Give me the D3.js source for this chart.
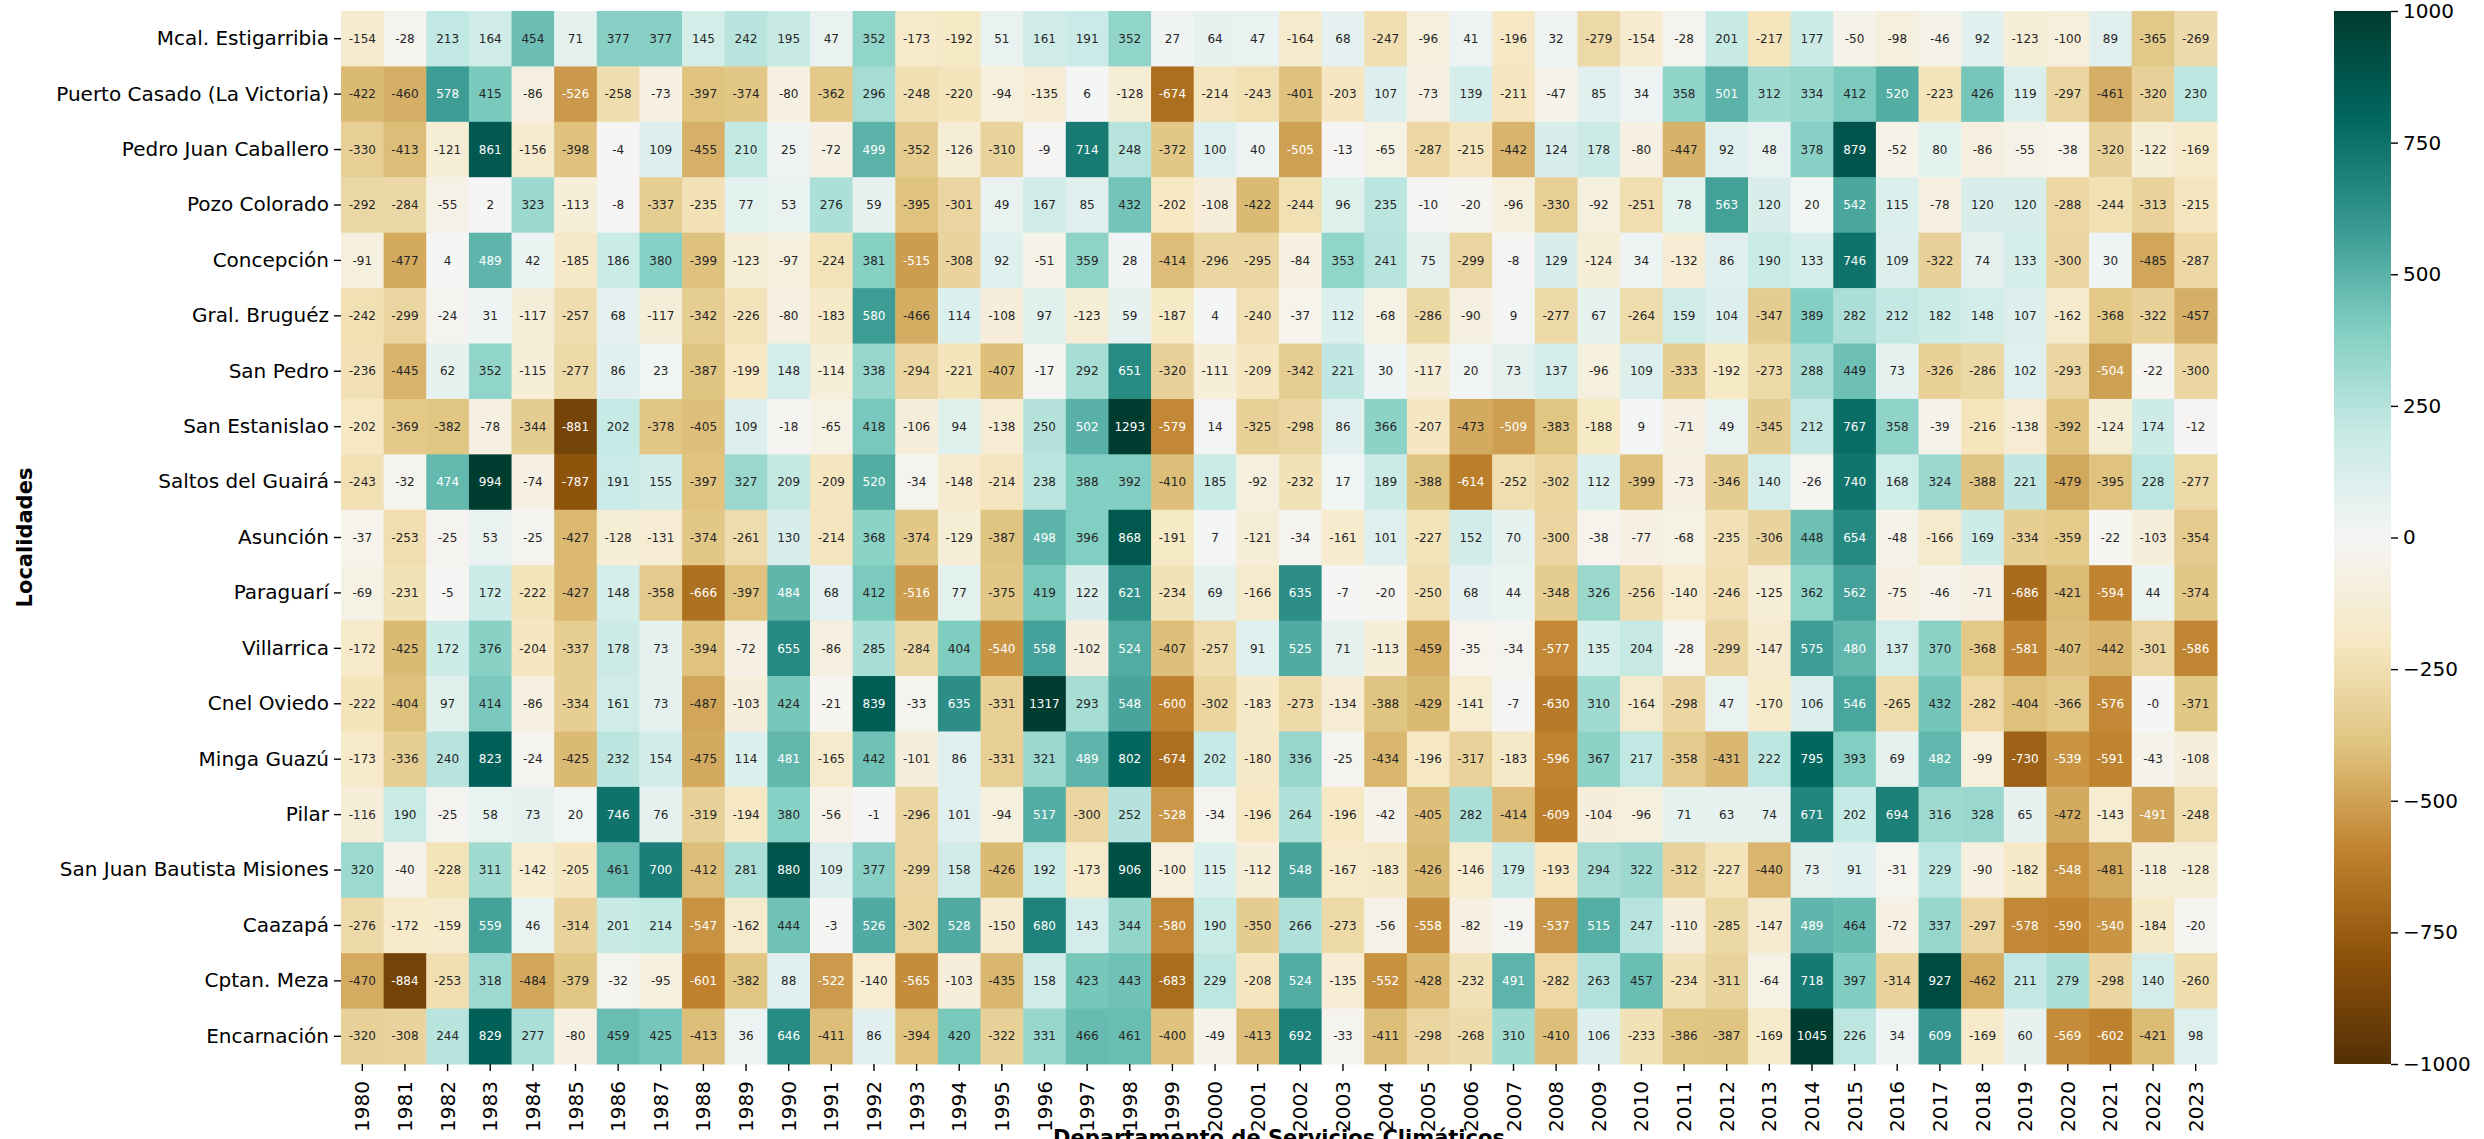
<!DOCTYPE html>
<html>
<head>
<meta charset="utf-8">
<script src="https://cdn.jsdelivr.net/npm/d3@7"></script>
<style>
  body { margin: 0; background: #fff; }
  text { font-family: "DejaVu Sans", sans-serif; }
</style>
</head>
<body>
<svg id="chart" width="2484" height="1139"></svg>
<script>
var years = [1980, 1981, 1982, 1983, 1984, 1985, 1986, 1987, 1988, 1989,
  1990, 1991, 1992, 1993, 1994, 1995, 1996, 1997, 1998, 1999,
  2000, 2001, 2002, 2003, 2004, 2005, 2006, 2007, 2008, 2009,
  2010, 2011, 2012, 2013, 2014, 2015, 2016, 2017, 2018, 2019,
  2020, 2021, 2022, 2023]

var localidades = ['Mcal. Estigarribia', 'Puerto Casado (La Victoria)', 'Pedro Juan Caballero',
  'Pozo Colorado', 'Concepción', 'Gral. Bruguéz', 'San Pedro', 'San Estanislao',
  'Saltos del Guairá', 'Asunción', 'Paraguarí', 'Villarrica', 'Cnel Oviedo',
  'Minga Guazú', 'Pilar', 'San Juan Bautista Misiones', 'Caazapá', 'Cptan. Meza', 'Encarnación']

// one row per localidad, one value per year (anomalía, mm)
var valores = [
  [-154, -28, 213, 164, 454, 71, 377, 377, 145, 242, 195, 47, 352, -173, -192, 51, 161, 191, 352, 27, 64, 47, -164, 68, -247, -96, 41, -196, 32, -279, -154, -28, 201, -217, 177, -50, -98, -46, 92, -123, -100, 89, -365, -269],
  [-422, -460, 578, 415, -86, -526, -258, -73, -397, -374, -80, -362, 296, -248, -220, -94, -135, 6, -128, -674, -214, -243, -401, -203, 107, -73, 139, -211, -47, 85, 34, 358, 501, 312, 334, 412, 520, -223, 426, 119, -297, -461, -320, 230],
  [-330, -413, -121, 861, -156, -398, -4, 109, -455, 210, 25, -72, 499, -352, -126, -310, -9, 714, 248, -372, 100, 40, -505, -13, -65, -287, -215, -442, 124, 178, -80, -447, 92, 48, 378, 879, -52, 80, -86, -55, -38, -320, -122, -169],
  [-292, -284, -55, 2, 323, -113, -8, -337, -235, 77, 53, 276, 59, -395, -301, 49, 167, 85, 432, -202, -108, -422, -244, 96, 235, -10, -20, -96, -330, -92, -251, 78, 563, 120, 20, 542, 115, -78, 120, 120, -288, -244, -313, -215],
  [-91, -477, 4, 489, 42, -185, 186, 380, -399, -123, -97, -224, 381, -515, -308, 92, -51, 359, 28, -414, -296, -295, -84, 353, 241, 75, -299, -8, 129, -124, 34, -132, 86, 190, 133, 746, 109, -322, 74, 133, -300, 30, -485, -287],
  [-242, -299, -24, 31, -117, -257, 68, -117, -342, -226, -80, -183, 580, -466, 114, -108, 97, -123, 59, -187, 4, -240, -37, 112, -68, -286, -90, 9, -277, 67, -264, 159, 104, -347, 389, 282, 212, 182, 148, 107, -162, -368, -322, -457],
  [-236, -445, 62, 352, -115, -277, 86, 23, -387, -199, 148, -114, 338, -294, -221, -407, -17, 292, 651, -320, -111, -209, -342, 221, 30, -117, 20, 73, 137, -96, 109, -333, -192, -273, 288, 449, 73, -326, -286, 102, -293, -504, -22, -300],
  [-202, -369, -382, -78, -344, -881, 202, -378, -405, 109, -18, -65, 418, -106, 94, -138, 250, 502, 1293, -579, 14, -325, -298, 86, 366, -207, -473, -509, -383, -188, 9, -71, 49, -345, 212, 767, 358, -39, -216, -138, -392, -124, 174, -12],
  [-243, -32, 474, 994, -74, -787, 191, 155, -397, 327, 209, -209, 520, -34, -148, -214, 238, 388, 392, -410, 185, -92, -232, 17, 189, -388, -614, -252, -302, 112, -399, -73, -346, 140, -26, 740, 168, 324, -388, 221, -479, -395, 228, -277],
  [-37, -253, -25, 53, -25, -427, -128, -131, -374, -261, 130, -214, 368, -374, -129, -387, 498, 396, 868, -191, 7, -121, -34, -161, 101, -227, 152, 70, -300, -38, -77, -68, -235, -306, 448, 654, -48, -166, 169, -334, -359, -22, -103, -354],
  [-69, -231, -5, 172, -222, -427, 148, -358, -666, -397, 484, 68, 412, -516, 77, -375, 419, 122, 621, -234, 69, -166, 635, -7, -20, -250, 68, 44, -348, 326, -256, -140, -246, -125, 362, 562, -75, -46, -71, -686, -421, -594, 44, -374],
  [-172, -425, 172, 376, -204, -337, 178, 73, -394, -72, 655, -86, 285, -284, 404, -540, 558, -102, 524, -407, -257, 91, 525, 71, -113, -459, -35, -34, -577, 135, 204, -28, -299, -147, 575, 480, 137, 370, -368, -581, -407, -442, -301, -586],
  [-222, -404, 97, 414, -86, -334, 161, 73, -487, -103, 424, -21, 839, -33, 635, -331, 1317, 293, 548, -600, -302, -183, -273, -134, -388, -429, -141, -7, -630, 310, -164, -298, 47, -170, 106, 546, -265, 432, -282, -404, -366, -576, -0.4, -371],
  [-173, -336, 240, 823, -24, -425, 232, 154, -475, 114, 481, -165, 442, -101, 86, -331, 321, 489, 802, -674, 202, -180, 336, -25, -434, -196, -317, -183, -596, 367, 217, -358, -431, 222, 795, 393, 69, 482, -99, -730, -539, -591, -43, -108],
  [-116, 190, -25, 58, 73, 20, 746, 76, -319, -194, 380, -56, -1, -296, 101, -94, 517, -300, 252, -528, -34, -196, 264, -196, -42, -405, 282, -414, -609, -104, -96, 71, 63, 74, 671, 202, 694, 316, 328, 65, -472, -143, -491, -248],
  [320, -40, -228, 311, -142, -205, 461, 700, -412, 281, 880, 109, 377, -299, 158, -426, 192, -173, 906, -100, 115, -112, 548, -167, -183, -426, -146, 179, -193, 294, 322, -312, -227, -440, 73, 91, -31, 229, -90, -182, -548, -481, -118, -128],
  [-276, -172, -159, 559, 46, -314, 201, 214, -547, -162, 444, -3, 526, -302, 528, -150, 680, 143, 344, -580, 190, -350, 266, -273, -56, -558, -82, -19, -537, 515, 247, -110, -285, -147, 489, 464, -72, 337, -297, -578, -590, -540, -184, -20],
  [-470, -884, -253, 318, -484, -379, -32, -95, -601, -382, 88, -522, -140, -565, -103, -435, 158, 423, 443, -683, 229, -208, 524, -135, -552, -428, -232, 491, -282, 263, 457, -234, -311, -64, 718, 397, -314, 927, -462, 211, 279, -298, 140, -260],
  [-320, -308, 244, 829, 277, -80, 459, 425, -413, 36, 646, -411, 86, -394, 420, -322, 331, 466, 461, -400, -49, -413, 692, -33, -411, -298, -268, 310, -410, 106, -233, -386, -387, -169, 1045, 226, 34, 609, -169, 60, -569, -602, -421, 98]
]

var colorTicks = [-1000, -750, -500, -250, 0, 250, 500, 750, 1000]

// matplotlib BrBG anchors
var brbg = ['#543005', '#8c510a', '#bf812d', '#dfc27d', '#f6e8c3', '#f5f5f5',
  '#c7eae5', '#80cdc1', '#35978f', '#01665e', '#003c30']

var config = {
  left: 341, top: 11, right: 2217, bottom: 1064,
  bar: { x: 2334, width: 57 }
}

var svg = d3.select('#chart')

var color = d3.scaleLinear()
    .domain(d3.range(brbg.length).map(function (i) { return -1000 + i * 200 }))
    .range(brbg)
    .interpolate(d3.interpolateRgb)
    .clamp(true)

var x = d3.scaleBand()
    .domain(years)
    .range([config.left, config.right])

var y = d3.scaleBand()
    .domain(localidades)
    .range([config.top, config.bottom])

renderCells()
renderAxes()
renderColorbar()

function fmt (v) {
  var r = Math.round(v)
  return (v < 0 ? '-' : '') + Math.abs(r)
}

function textColor (c) {
  var rgb = d3.rgb(c)
  var lin = [rgb.r, rgb.g, rgb.b].map(function (v) {
    v = v / 255
    return v <= 0.03928 ? v / 12.92 : Math.pow((v + 0.055) / 1.055, 2.4)
  })
  var lum = 0.2126 * lin[0] + 0.7152 * lin[1] + 0.0722 * lin[2]
  return lum > 0.408 ? '#262626' : '#ffffff'
}

function renderCells () {
  var cells = []
  valores.forEach(function (row, i) {
    row.forEach(function (v, j) {
      cells.push({ loc: localidades[i], year: years[j], value: v })
    })
  })

  var g = svg.append('g').attr('class', 'cells')

  g.selectAll('rect')
      .data(cells)
      .join('rect')
      .attr('x', function (d) { return x(d.year) })
      .attr('y', function (d) { return y(d.loc) })
      .attr('width', x.bandwidth() + 0.5)
      .attr('height', y.bandwidth() + 0.5)
      .attr('fill', function (d) { return color(d.value) })

  g.selectAll('text')
      .data(cells)
      .join('text')
      .attr('x', function (d) { return x(d.year) + x.bandwidth() / 2 })
      .attr('y', function (d) { return y(d.loc) + y.bandwidth() / 2 })
      .attr('dy', '0.35em')
      .attr('text-anchor', 'middle')
      .attr('font-size', 12)
      .attr('fill', function (d) { return textColor(color(d.value)) })
      .text(function (d) { return fmt(d.value) })
}

function renderAxes () {
  var ax = svg.append('g')
      .attr('transform', 'translate(' + config.left + ',0)')
      .call(d3.axisLeft(y).tickSize(7).tickPadding(5))

  ax.select('.domain').remove()
  ax.selectAll('.tick line').attr('stroke', '#000').attr('stroke-width', 1.4)
  ax.selectAll('.tick text')
      .attr('font-size', 20)
      .attr('fill', '#000')

  var bx = svg.append('g')
      .attr('transform', 'translate(0,' + config.bottom + ')')
      .call(d3.axisBottom(x).tickSize(7))

  bx.select('.domain').remove()
  bx.selectAll('.tick line').attr('stroke', '#000').attr('stroke-width', 1.4)
  bx.selectAll('.tick text')
      .attr('font-size', 20)
      .attr('fill', '#000')
      .attr('transform', 'rotate(-90)')
      .attr('text-anchor', 'end')
      .attr('x', -17)
      .attr('y', 0)
      .attr('dy', '0.35em')

  svg.append('text')
      .attr('transform', 'translate(32,' + (config.top + config.bottom) / 2 + ') rotate(-90)')
      .attr('text-anchor', 'middle')
      .attr('font-size', 21)
      .attr('font-weight', 'bold')
      .text('Localidades')

  svg.append('text')
      .attr('x', (config.left + config.right) / 2)
      .attr('y', 1145)
      .attr('text-anchor', 'middle')
      .attr('font-size', 21)
      .attr('font-weight', 'bold')
      .text('Departamento de Servicios Climáticos')
}

function renderColorbar () {
  var scale = d3.scaleLinear()
      .domain([-1000, 1000])
      .range([config.bottom, config.top])

  var grad = svg.append('defs').append('linearGradient')
      .attr('id', 'cbar')
      .attr('x1', 0).attr('y1', 1)
      .attr('x2', 0).attr('y2', 0)

  grad.selectAll('stop')
      .data(color.domain())
      .join('stop')
      .attr('offset', function (d) { return (d + 1000) / 2000 })
      .attr('stop-color', function (d) { return color(d) })

  svg.append('rect')
      .attr('x', config.bar.x)
      .attr('y', config.top)
      .attr('width', config.bar.width)
      .attr('height', config.bottom - config.top)
      .attr('fill', 'url(#cbar)')

  var cx = svg.append('g')
      .attr('transform', 'translate(' + (config.bar.x + config.bar.width) + ',0)')
      .call(d3.axisRight(scale)
        .tickValues(colorTicks)
        .tickFormat(function (d) { return d < 0 ? '\u2212' + Math.abs(d) : String(d) })
        .tickSize(7)
        .tickPadding(5))

  cx.select('.domain').remove()
  cx.selectAll('.tick line').attr('stroke', '#000').attr('stroke-width', 1.4)
  cx.selectAll('.tick text')
      .attr('font-size', 20)
      .attr('fill', '#000')
}
</script>
</body>
</html>
